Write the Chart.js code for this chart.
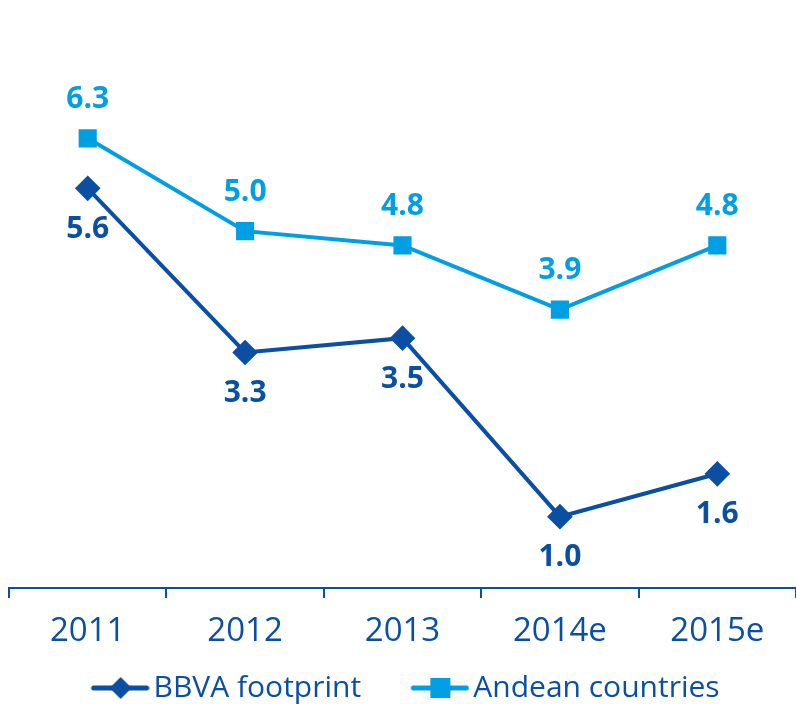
<!DOCTYPE html>
<html>
<head>
<meta charset="utf-8">
<script src="https://cdn.jsdelivr.net/npm/chart.js@4"></script>
<style>
  html, body { margin: 0; padding: 0; background: #fff; }
  #wrap { width: 796px; height: 704px; }
</style>
</head>
<body>
<div id="wrap"><canvas id="chart-area" width="796" height="704"></canvas></div>
<script>
var years = ['2011', '2012', '2013', '2014e', '2015e'];
var bbvaFootprint = [5.6, 3.3, 3.5, 1.0, 1.6];
var andeanCountries = [6.3, 5.0, 4.8, 3.9, 4.8];

var darkBlue = '#0b4fa3';
var lightBlue = '#009fe3';
var fontName = "'Open Sans', 'Noto Sans', sans-serif";

// line + marker picture for the legend, drawn a bit past the box so the text sits close
function legendIcon(color, style) {
    var c = document.createElement('canvas');
    c.width = 80; c.height = 24;
    var g = c.getContext('2d');
    g.strokeStyle = color;
    g.fillStyle = color;
    g.lineWidth = 5;
    g.lineCap = 'round';
    g.beginPath();
    g.moveTo(24, 12); g.lineTo(77, 12);
    g.stroke();
    if (style === 'diamond') {
        g.beginPath();
        g.moveTo(51, 1); g.lineTo(62, 12); g.lineTo(51, 23); g.lineTo(40, 12);
        g.closePath(); g.fill();
    } else {
        g.fillRect(41, 2, 20, 20);
    }
    return c;
}

var valueLabels = {
    id: 'valueLabels',
    afterDatasetsDraw: function(chart) {
        var ctx = chart.ctx;
        ctx.save();
        ctx.font = 'bold 30px ' + fontName;
        ctx.textAlign = 'center';
        ctx.textBaseline = 'middle';
        chart.data.datasets.forEach(function(ds, i) {
            var meta = chart.getDatasetMeta(i);
            ctx.fillStyle = ds.borderColor;
            meta.data.forEach(function(pt, j) {
                var dy = i === 0 ? 41 : -39;
                ctx.fillText(ds.data[j].toFixed(1), pt.x, pt.y + dy);
            });
        });
        ctx.restore();
    }
};

var config = {
    type: 'line',
    data: {
        labels: years,
        datasets: [{
            label: 'BBVA footprint',
            data: bbvaFootprint,
            borderColor: darkBlue,
            backgroundColor: darkBlue,
            borderWidth: 4,
            pointStyle: 'rectRot',
            pointRadius: 10,
            pointHoverRadius: 10,
            tension: 0
        }, {
            label: 'Andean countries',
            data: andeanCountries,
            borderColor: lightBlue,
            backgroundColor: lightBlue,
            borderWidth: 4,
            pointStyle: 'rect',
            pointRadius: 10,
            pointHoverRadius: 10,
            tension: 0
        }]
    },
    options: {
        responsive: false,
        animation: false,
        layout: {
            autoPadding: false,
            padding: { left: 9, right: -3, top: 17, bottom: -9 }
        },
        scales: {
            x: {
                offset: true,
                grid: {
                    display: true,
                    offset: true,
                    drawOnChartArea: false,
                    tickLength: 10,
                    color: darkBlue,
                    lineWidth: 2
                },
                border: { color: darkBlue, width: 2 },
                ticks: {
                    color: darkBlue,
                    font: { family: fontName, size: 33, lineHeight: 1 },
                    padding: 17
                },
                afterFit: function(scale) {
                    scale.paddingLeft = 0;
                    scale.paddingRight = 0;
                }
            },
            y: {
                display: false,
                min: 0,
                max: 8
            }
        },
        plugins: {
            tooltip: { enabled: false },
            legend: {
                position: 'bottom',
                labels: {
                    usePointStyle: true,
                    pointStyleWidth: 58,
                    color: darkBlue,
                    font: { family: fontName, size: 30 },
                    padding: 8,
                    generateLabels: function(chart) {
                        // trailing spaces keep the two entries apart
                        return [
                            { text: 'BBVA footprint    ', pointStyle: legendIcon(darkBlue, 'diamond'), fontColor: darkBlue, datasetIndex: 0, lineWidth: 0, strokeStyle: 'transparent' },
                            { text: 'Andean countries ', pointStyle: legendIcon(lightBlue, 'square'), fontColor: darkBlue, datasetIndex: 1, lineWidth: 0, strokeStyle: 'transparent' }
                        ];
                    }
                }
            }
        }
    },
    plugins: [valueLabels]
};

var ctx = document.getElementById('chart-area').getContext('2d');
window.lineChart = new Chart(ctx, config);
</script>
</body>
</html>
